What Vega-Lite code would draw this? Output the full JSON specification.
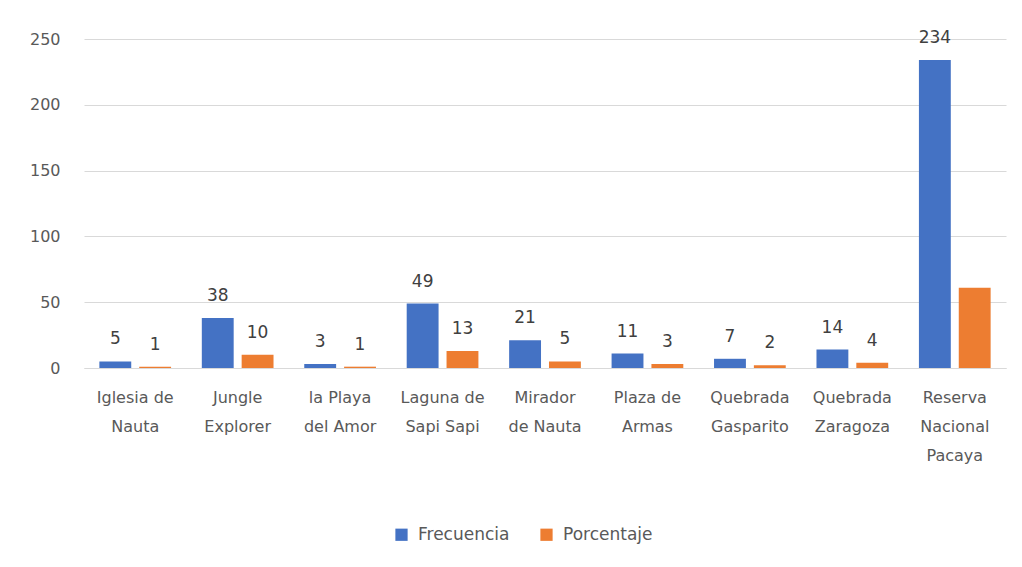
{
  "$schema": "https://vega.github.io/schema/vega-lite/v6.json",
  "autosize": {"type": "none"},
  "width": 922,
  "height": 329,
  "padding": {"left": 84, "top": 39, "right": 16, "bottom": 199},
  "background": "white",
  "config": {
    "view": {"stroke": null},
    "font": "DejaVu Sans",
    "axis": {"labelFont": "DejaVu Sans", "labelColor": "#595959", "labelFontSize": 16}
  },
  "data": {
    "values": [
      {"lugar": "Iglesia de Nauta", "serie": "Frecuencia", "valor": 5},
      {"lugar": "Iglesia de Nauta", "serie": "Porcentaje", "valor": 1},
      {"lugar": "Jungle Explorer", "serie": "Frecuencia", "valor": 38},
      {"lugar": "Jungle Explorer", "serie": "Porcentaje", "valor": 10},
      {"lugar": "la Playa del Amor", "serie": "Frecuencia", "valor": 3},
      {"lugar": "la Playa del Amor", "serie": "Porcentaje", "valor": 1},
      {"lugar": "Laguna de Sapi Sapi", "serie": "Frecuencia", "valor": 49},
      {"lugar": "Laguna de Sapi Sapi", "serie": "Porcentaje", "valor": 13},
      {"lugar": "Mirador de Nauta", "serie": "Frecuencia", "valor": 21},
      {"lugar": "Mirador de Nauta", "serie": "Porcentaje", "valor": 5},
      {"lugar": "Plaza de Armas", "serie": "Frecuencia", "valor": 11},
      {"lugar": "Plaza de Armas", "serie": "Porcentaje", "valor": 3},
      {"lugar": "Quebrada Gasparito", "serie": "Frecuencia", "valor": 7},
      {"lugar": "Quebrada Gasparito", "serie": "Porcentaje", "valor": 2},
      {"lugar": "Quebrada Zaragoza", "serie": "Frecuencia", "valor": 14},
      {"lugar": "Quebrada Zaragoza", "serie": "Porcentaje", "valor": 4},
      {"lugar": "Reserva Nacional Pacaya", "serie": "Frecuencia", "valor": 234},
      {"lugar": "Reserva Nacional Pacaya", "serie": "Porcentaje", "valor": 61}
    ]
  },
  "encoding": {
    "x": {
      "field": "lugar", "type": "nominal", "sort": null, "title": null,
      "scale": {"paddingInner": 0.3, "paddingOuter": 0.15},
      "axis": {
        "labelAngle": 0, "ticks": false, "domain": true, "domainColor": "#d9d9d9",
        "labelPadding": 21, "labelLineHeight": 29, "labelBaseline": "top",
        "labelExpr": "{'Iglesia de Nauta':['Iglesia de','Nauta'],'Jungle Explorer':['Jungle','Explorer'],'la Playa del Amor':['la Playa','del Amor'],'Laguna de Sapi Sapi':['Laguna de','Sapi Sapi'],'Mirador de Nauta':['Mirador','de Nauta'],'Plaza de Armas':['Plaza de','Armas'],'Quebrada Gasparito':['Quebrada','Gasparito'],'Quebrada Zaragoza':['Quebrada','Zaragoza'],'Reserva Nacional Pacaya':['Reserva','Nacional','Pacaya']}[datum.value]"
      }
    },
    "xOffset": {"field": "serie", "type": "nominal", "scale": {"paddingInner": 0.2, "paddingOuter": 0}},
    "y": {
      "field": "valor", "type": "quantitative", "title": null,
      "scale": {"domain": [0, 250], "nice": false},
      "axis": {"values": [0, 50, 100, 150, 200, 250], "domain": false, "ticks": false, "gridColor": "#d9d9d9", "labelPadding": 24}
    }
  },
  "layer": [
    {
      "mark": {"type": "bar"},
      "encoding": {
        "color": {
          "field": "serie", "type": "nominal",
          "scale": {"domain": ["Frecuencia", "Porcentaje"], "range": ["#4472C4", "#ED7D31"]},
          "legend": {
            "title": null, "orient": "none", "direction": "horizontal",
            "legendX": 309, "legendY": 487,
            "symbolType": "square", "symbolSize": 150, "symbolStrokeWidth": 0,
            "labelFontSize": 17, "labelColor": "#595959", "labelFont": "DejaVu Sans",
            "columnPadding": 28, "labelOffset": 8
          }
        }
      }
    },
    {
      "transform": [{"filter": "!(datum.lugar == 'Reserva Nacional Pacaya' && datum.serie == 'Porcentaje')"}],
      "mark": {"type": "text", "baseline": "bottom", "dy": -13, "fontSize": 17, "color": "#404040", "font": "DejaVu Sans"},
      "encoding": {"text": {"field": "valor", "type": "quantitative"}}
    }
  ]
}
